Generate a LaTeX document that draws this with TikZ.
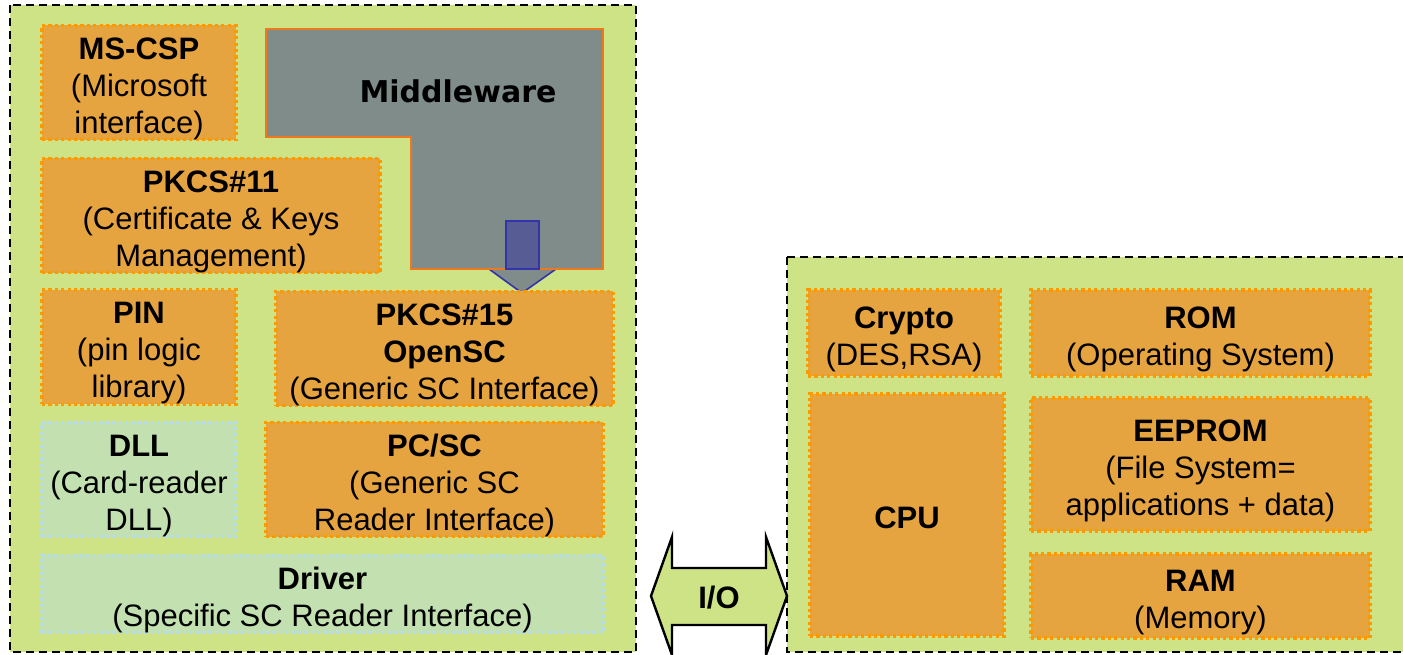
\documentclass[tikz,border=0pt]{standalone}
\usepackage{fontspec}
\setmainfont{Liberation Sans}
\newfontfamily\mwfont{DejaVu Sans}
\usepackage{xcolor}
\usetikzlibrary{positioning}

\definecolor{cardgreen}{RGB}{205,227,133}
\definecolor{layerfill}{RGB}{229,164,63}
\definecolor{layerdraw}{RGB}{255,153,0}
\definecolor{mwfill}{RGB}{127,140,138}
\definecolor{mwdraw}{RGB}{238,120,30}
\definecolor{hwfill}{RGB}{195,224,176}
\definecolor{hwdraw}{RGB}{183,221,232}
\definecolor{arrfill}{RGB}{88,92,148}
\definecolor{arrdraw}{RGB}{51,51,170}

\newcommand{\layertitle}[1]{\rule{0pt}{17pt}\textbf{#1}}

\begin{document}
\begin{tikzpicture}[
  x=0.5pt, y=-0.5pt,
  every node/.style={font=\fontsize{15.5}{18.5}\selectfont},
  zone/.style={
    draw=black, fill=cardgreen, line width=1pt,
    dash pattern=on 4pt off 2.5pt,
  },
  layer/.style={
    rectangle, fill=layerfill, draw=layerdraw, line width=1.6pt,
    dash pattern=on 1.6pt off 1.6pt,
    inner sep=0pt, align=center,
  },
  hwlayer/.style={layer, fill=hwfill, draw=hwdraw},
]
  \useasboundingbox (0,0) rectangle (1403,654);

  % the two zones
  \draw[zone] (10,5) rectangle (636,652);
  \draw[zone] (787,257) rectangle (1410,652);

  % middleware block with its arrow
  \draw[draw=arrdraw, fill=mwfill, line width=0.8pt] (489,269) -- (522,293) -- (556,269);
  \draw[fill=mwfill, draw=mwdraw, line width=1.2pt]
    (266,29) -- (603,29) -- (603,269) -- (411,269) -- (411,137) -- (266,137) -- cycle;
  \draw[fill=arrfill, draw=arrdraw, line width=0.8pt] (506,221) rectangle (539,269);
  \node[font=\mwfont\bfseries\fontsize{15}{18}\selectfont] (mw) at (458,91) {Middleware};

  % host side
  \node[layer, minimum width=97pt, minimum height=54.5pt] (mscsp) at (139,82.5)
    {\layertitle{MS-CSP}\\(Microsoft\\interface)};
  \node[layer, minimum width=169pt, minimum height=54.5pt] (pkcs11) at (211,215.5)
    {\layertitle{PKCS\#11}\\(Certificate \& Keys\\Management)};
  \node[layer, minimum width=97pt, minimum height=55pt] (pin) at (139,347)
    {\layertitle{PIN}\\(pin logic\\library)};
  \node[layer, minimum width=168.5pt, minimum height=55.5pt] (pkcs15) at (444.5,348.5)
    {\layertitle{PKCS\#15}\\{\bfseries OpenSC}\\(Generic SC Interface)};
  \node[hwlayer, minimum width=97pt, minimum height=55.5pt] (dll) at (139,479.5)
    {\layertitle{DLL}\\(Card-reader\\DLL)};
  \node[layer, minimum width=168.5pt, minimum height=55.5pt] (pcsc) at (434.5,479.5)
    {\layertitle{PC/SC}\\(Generic SC\\Reader Interface)};
  \node[hwlayer, minimum width=280.5pt, minimum height=38pt] (driver) at (322.5,594)
    {\layertitle{Driver}\\(Specific SC Reader Interface)};

  % card side
  \node[layer, minimum width=96pt, minimum height=43pt] (crypto) at (904,333)
    {\layertitle{Crypto}\\(DES,RSA)};
  \node[layer, minimum width=169.5pt, minimum height=43pt] (rom) at (1200.5,333)
    {\layertitle{ROM}\\(Operating System)};
  \node[layer, minimum width=97pt, minimum height=121pt] (cpu) at (907,515)
    {\rule{0pt}{14pt}\bfseries CPU};
  \node[layer, minimum width=169.5pt, minimum height=66.5pt] (eeprom) at (1200.5,464.5)
    {\layertitle{EEPROM}\\(File System=\\applications + data)};
  \node[layer, minimum width=169.5pt, minimum height=42pt] (ram) at (1200.5,596)
    {\layertitle{RAM}\\(Memory)};

  % I/O link
  \draw[fill=cardgreen, draw=black, line width=1.2pt]
    (651,596) -- (672,537) -- (672,568) -- (766,568) -- (766,537) -- (787,596)
    -- (766,655) -- (766,625) -- (672,625) -- (672,655) -- cycle;
  \node[font=\bfseries\fontsize{15.5}{18}\selectfont] (io) at (719,598) {I/O};
\end{tikzpicture}
\end{document}
